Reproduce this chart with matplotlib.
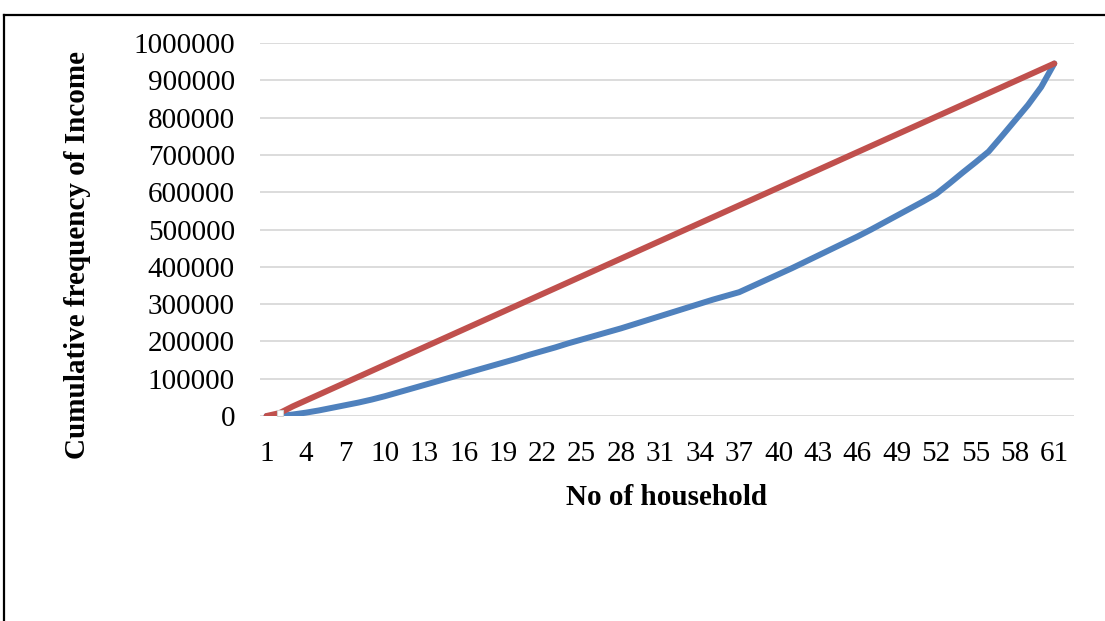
import matplotlib
matplotlib.use('Agg')
import matplotlib.pyplot as plt
from matplotlib.lines import Line2D

from matplotlib import rcParams
rcParams['font.family'] = ['Liberation Serif', 'DejaVu Serif']

# household number on the category axis (62 slots, the last one is empty)
households = list(range(1, 62))

# cumulative income, actual
actual = [0, 0, 4000, 9000, 15000, 22000, 29000, 36000, 44000, 53000,
          63000, 73000, 83000, 93000, 103000, 113000, 123000, 133000, 143000, 153000,
          164000, 174000, 184000, 195000, 205000, 215000, 225000, 235000, 246000, 257000,
          268000, 279000, 290000, 301000, 312000, 322000, 332000, 348000, 364000, 380000,
          396000, 413000, 430000, 447000, 464000, 481000, 499000, 518000, 537000, 556000,
          575000, 595000, 623000, 652000, 680000, 709000, 750000, 792000, 834000, 882000,
          945000]

# cumulative income, line of equality
equal = [0, 8000, 25850, 41690, 57540, 73390, 89240, 105080, 120930, 136780,
         152630, 168470, 184320, 200170, 216020, 231860, 247710, 263560, 279410, 295250,
         311100, 326950, 342800, 358640, 374490, 390340, 406190, 422030, 437880, 453730,
         469580, 485420, 501270, 517120, 532970, 548810, 564660, 580510, 596360, 612200,
         628050, 643900, 659750, 675590, 691440, 707290, 723140, 738980, 754830, 770680,
         786530, 802370, 818220, 834070, 849920, 865760, 881610, 897460, 913310, 929150,
         945000]

tick_households = list(range(1, 62, 3))
y_ticks = list(range(0, 1000001, 100000))

fig = plt.figure(figsize=(11.05, 6.21), dpi=100)
ax = fig.add_axes([260 / 1105, 1 - 416 / 621, 814 / 1105, 373 / 621])

ax.plot(households, actual, color='#4f81bd', lw=4.3, solid_capstyle='round', zorder=3)
ax.plot(households, equal, color='#c0504d', lw=4.3, solid_capstyle='round', zorder=4,
        marker='s', markevery=[1], markersize=4, markerfacecolor='white',
        markeredgecolor='#d0d0d0', markeredgewidth=0.8)

ax.set_xlim(0.5, 62.5)
ax.set_ylim(0, 1000000)
ax.set_xticks(tick_households)
ax.set_xticklabels([str(t) for t in tick_households])
ax.set_yticks(y_ticks)
ax.set_yticklabels([str(t) for t in y_ticks])
ax.tick_params(axis='both', length=0, labelsize=21)
ax.tick_params(axis='y', pad=18)
ax.tick_params(axis='x', pad=18)

ax.grid(axis='y', color='#d9d9d9', lw=1.3)
ax.set_axisbelow(True)
for s in ax.spines.values():
    s.set_visible(False)

ax.set_xlabel('No of household', fontsize=21, fontweight='bold', labelpad=12)
ax.set_ylabel('Cumulative frequency of Income', fontsize=21, fontweight='bold')
ax.yaxis.set_label_coords(-0.208, 0.432)

# outer frame (top and left edges)
fig.add_artist(Line2D([4 / 1105, 1], [1 - 15 / 621, 1 - 15 / 621], transform=fig.transFigure,
                      color='black', lw=1.6))
fig.add_artist(Line2D([4 / 1105, 4 / 1105], [0, 1 - 15 / 621], transform=fig.transFigure,
                      color='black', lw=1.6))

fig.savefig('out.png', dpi=100)
